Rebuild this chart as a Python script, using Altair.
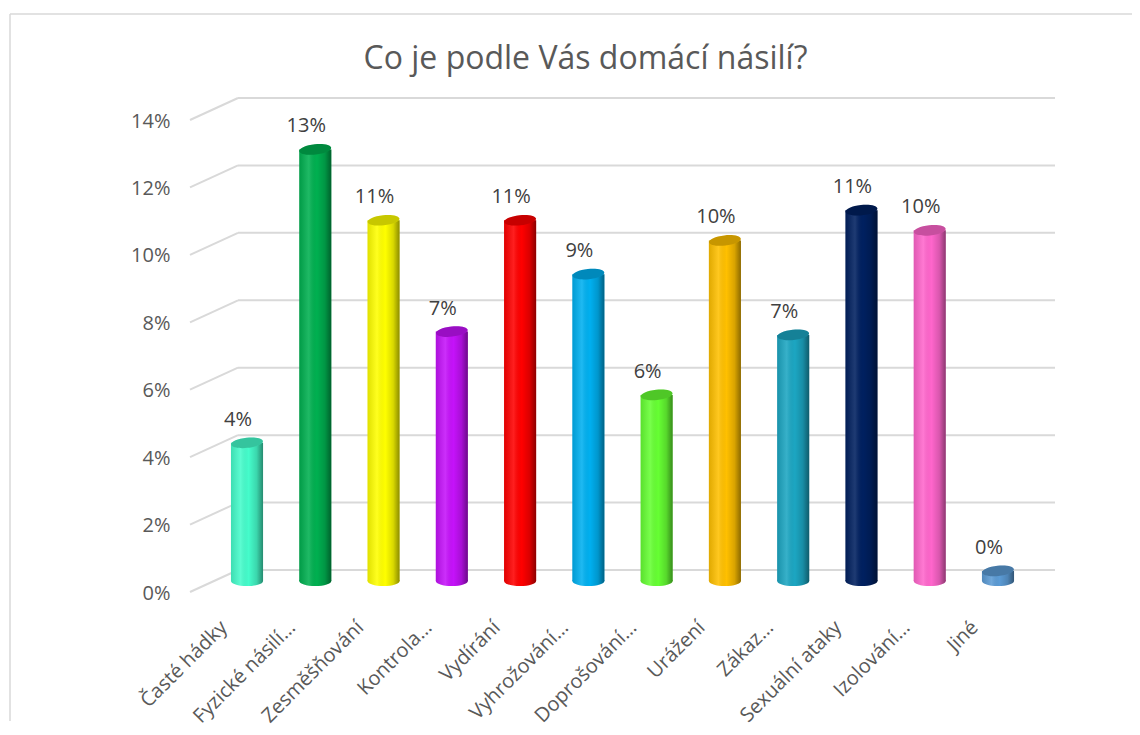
import altair as alt
import pandas as pd

# ---- data ----
categories = ["Časté hádky", "Fyzické násilí…", "Zesměšňování", "Kontrola…", "Vydírání",
              "Vyhrožování…", "Doprošování…", "Urážení", "Zákaz…", "Sexuální ataky",
              "Izolování…", "Jiné"]
shares = [0.041, 0.128, 0.107, 0.074, 0.107, 0.091, 0.0552, 0.101, 0.073, 0.110, 0.104, 0.003]
bar_colors = ["#45FCCB", "#00B050", "#FFFF00", "#C512FA", "#FF0000", "#00B0F0",
              "#66FF33", "#FFC000", "#1CA6C2", "#002060", "#FF66CC", "#5B9BD5"]
tick_values = [0, 0.02, 0.04, 0.06, 0.08, 0.10, 0.12, 0.14]
title_text = "Co je podle Vás domácí násilí?"

df = pd.DataFrame({"cat": categories, "val": shares, "zero": [0.0] * len(categories)})
grid_df = pd.DataFrame({"t": tick_values})

W, H = 865, 472
FONT = "Open Sans"

xenc = alt.X("cat:N", sort=categories,
             scale=alt.Scale(paddingInner=0.53, paddingOuter=0.6),
             axis=alt.Axis(title=None, labelAngle=-45, labelAlign="right",
                           labelBaseline="middle", ticks=False, domain=False, grid=False,
                           labelPadding=43, labelOffset=-23, labelFontSize=20,
                           labelFont=FONT, labelColor="#595959", labelLimit=300))
xq = alt.X("cat:N", sort=categories)
yscale = alt.Scale(domain=[0, 0.14], nice=False)
color = alt.Color("cat:N", sort=categories,
                  scale=alt.Scale(domain=categories, range=bar_colors), legend=None)

def yv(field):
    return alt.Y(field, scale=yscale)

base = alt.Chart(df)

# gridlines (back wall) and the diagonals of the side wall
grid_back = alt.Chart(grid_df).mark_rule(color="#D9D9D9", strokeWidth=2, yOffset=-11).encode(
    y=alt.Y("t:Q", scale=yscale,
            axis=alt.Axis(title=None, values=tick_values, format=".0%", ticks=False,
                          domain=False, grid=False, labelPadding=20, labelOffset=12,
                          labelFontSize=20, labelFont=FONT, labelColor="#595959")),
    x=alt.value(48), x2=alt.value(W))
grid_side = alt.Chart(grid_df).mark_rule(color="#D9D9D9", strokeWidth=2,
                                         yOffset=11, y2Offset=-11).encode(
    y=yv("t:Q"), y2="t:Q",
    x=alt.value(0), x2=alt.value(48))

# chart frame (left and top edges)
frame_left = alt.Chart(grid_df.head(1)).mark_rule(color="#D9D9D9", strokeWidth=1.5).encode(
    x=alt.value(-180), y=alt.value(-95), y2=alt.value(H + 140))
frame_top = alt.Chart(grid_df.head(1)).mark_rule(color="#D9D9D9", strokeWidth=1.5).encode(
    x=alt.value(-180), x2=alt.value(W + 80), y=alt.value(-95))

ellipse = "M-1,0A1,0.32,0,1,1,1,0A1,0.32,0,1,1,-1,0Z"
shade = {"gradient": "linear", "x1": 0, "x2": 1, "y1": 0, "y2": 0,
         "stops": [{"offset": 0, "color": "rgba(0,0,0,0.12)"},
                   {"offset": 0.3, "color": "rgba(255,255,255,0.12)"},
                   {"offset": 0.55, "color": "rgba(0,0,0,0.0)"},
                   {"offset": 0.8, "color": "rgba(0,0,0,0.15)"},
                   {"offset": 1, "color": "rgba(0,0,0,0.45)"}]}

bottom_cap = base.mark_point(shape=ellipse, filled=True, size=1024, opacity=1).encode(
    x=xenc, y=yv("zero:Q"), fill=color)
bottom_shade = base.mark_point(shape=ellipse, filled=True, size=1024, fill=shade, opacity=1).encode(
    x=xq, y=yv("zero:Q"))
bars = base.mark_bar().encode(x=xq, y=yv("val:Q"), y2="zero:Q", color=color)
bars_shade = base.mark_bar(fill=shade).encode(x=xq, y=yv("val:Q"), y2="zero:Q")
top_cap = base.mark_point(shape=ellipse, filled=True, size=1024, angle=354, opacity=1).encode(
    x=xq, y=yv("val:Q"), fill=color)
top_dark = base.mark_point(shape=ellipse, filled=True, size=1024, angle=354,
                           fill="#000000", opacity=0.22).encode(x=xq, y=yv("val:Q"))
labels = base.mark_text(font=FONT, fontSize=20, color="#404040", baseline="middle",
                        dy=-23, dx=-9).encode(
    x=xq, y=yv("val:Q"), text=alt.Text("val:Q", format=".0%"))

chart = alt.layer(grid_back, grid_side, frame_left, frame_top, bottom_cap, bottom_shade,
                  bars, bars_shade, top_cap, top_dark, labels).properties(
    width=W, height=H,
    background="white",
    title=alt.TitleParams(title_text, font=FONT, fontSize=32, fontWeight="normal",
                          color="#595959", anchor="middle", dx=-37, offset=-88,
                          baseline="alphabetic"),
    autosize=alt.AutoSizeParams(type="none"),
    padding={"left": 182, "top": 101, "right": 77, "bottom": 146},
).configure_view(strokeWidth=0, strokeOpacity=0).configure_axis(grid=False)

chart.save("out.html", embed_options={"renderer": "svg", "actions": False})
